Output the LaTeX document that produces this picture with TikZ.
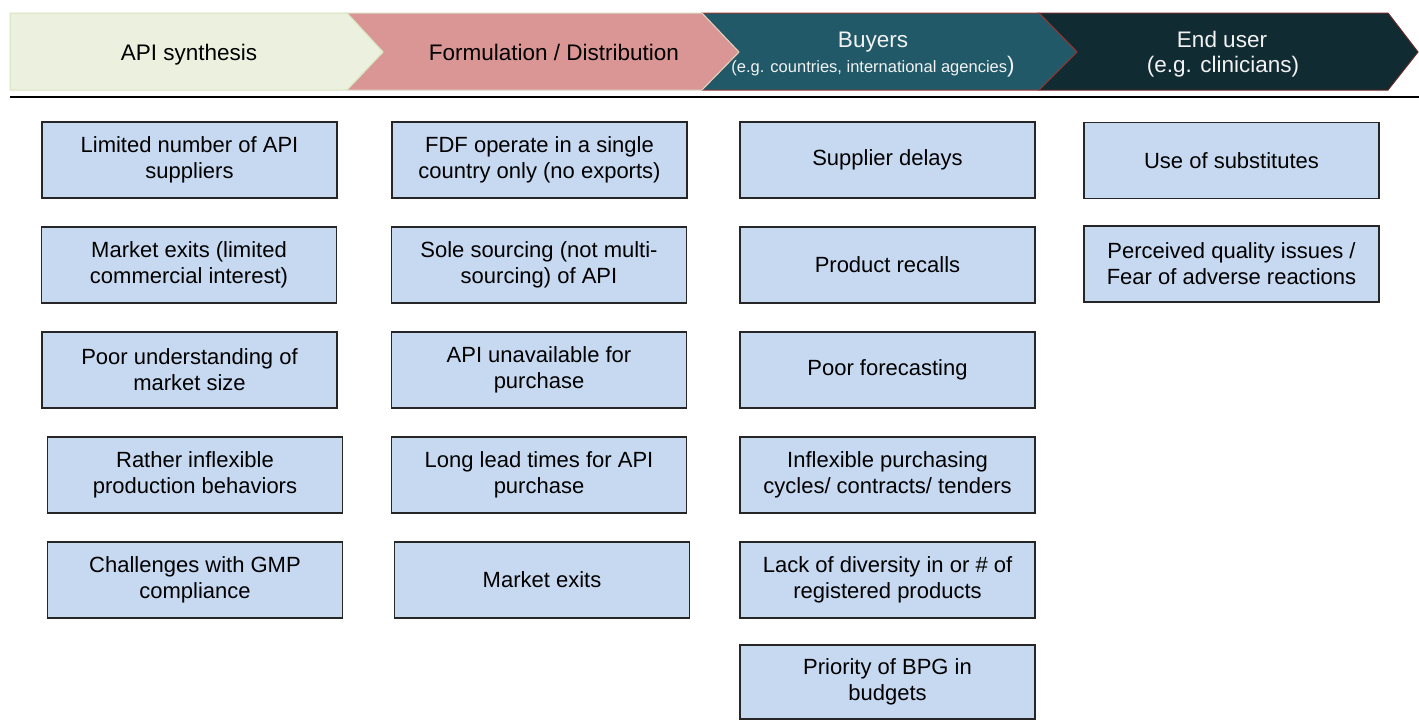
\documentclass[tikz,border=0pt]{standalone}
\usepackage{fontspec}
\setmainfont{Liberation Sans}
\definecolor{hgreen}{HTML}{EBF1DE}
\definecolor{hgreenline}{HTML}{D7E4BD}
\definecolor{hpink}{HTML}{D99694}
\definecolor{hbeige}{HTML}{DDD9C3}
\definecolor{hteal}{HTML}{215968}
\definecolor{hdark}{HTML}{112B33}
\definecolor{hred}{HTML}{953735}
\definecolor{boxblue}{HTML}{C6D9F1}
\begin{document}
\begin{tikzpicture}[x=1pt,y=-1pt,
  issue/.style={draw=black!85, line width=1.1pt, fill=boxblue, minimum width=295pt,
    minimum height=76pt, inner sep=0pt, align=center,
    font=\fontsize{22}{26}\selectfont},
  headtext/.style={align=center, inner sep=0pt, anchor=base, font=\fontsize{22.5}{25}\selectfont},
  seg/.style={line width=1pt, line join=miter}]
\useasboundingbox (0,0) rectangle (1419,721);
% header chevrons
\draw[seg, fill=hdark, draw=hred!70!black] (1039,13) -- (1388,13) -- (1418,52) -- (1388,90) -- (1039,90) -- (1077,52) -- cycle;
\draw[seg, fill=hteal, draw=hred] (702,13) -- (1039,13) -- (1077,52) -- (1039,90) -- (702,90) -- (739,52) -- cycle;
\draw[seg, fill=hpink, draw=hbeige] (347,13) -- (702,13) -- (739,52) -- (702,90) -- (347,90) -- (383,52) -- cycle;
\draw[seg, fill=hgreen, draw=hgreenline] (10,13) -- (347,13) -- (383,52) -- (347,90) -- (10,90) -- cycle;
\draw[line width=2.6pt] (10,97) -- (1419,97);
% header texts
\node[headtext] (h1) at (189,60) {API synthesis};
\node[headtext] (h2) at (554,60) {Formulation / Distribution};
\node[headtext, text=white!95!black] (h3) at (873,47) {Buyers};
\node[inner sep=0pt, text=white!95!black, anchor=base] (h3b) at (873,72)
  {{\fontsize{16.5}{20}\selectfont (e.g. countries, international agencies}{\fontsize{22.5}{25}\selectfont )}};
\node[headtext, text=white!95!black] (h4) at (1222,47) {End user};
\node[headtext, text=white!95!black] (h4b) at (1223,72) {(e.g. clinicians)};
% column 1
\node[issue] (a1) at (189.5,160) {Limited number of API\\suppliers};
\node[issue] (a2) at (189,265) {Market exits (limited\\commercial interest)};
\node[issue] (a3) at (189.5,370) {Poor understanding of\\market size};
\node[issue] (a4) at (195,475) {Rather inflexible\\production behaviors};
\node[issue] (a5) at (195,580) {Challenges with GMP\\compliance};
% column 2
\node[issue] (b1) at (539.5,160) {FDF operate in a single\\country only (no exports)};
\node[issue] (b2) at (539,265) {Sole sourcing (not multi-\\sourcing) of API};
\node[issue] (b3) at (539,370) {API unavailable for\\purchase};
\node[issue] (b4) at (539,475) {Long lead times for API\\purchase};
\node[issue] (b5) at (542,580) {Market exits};
% column 3
\node[issue] (c1) at (887.5,160) {Supplier delays};
\node[issue] (c2) at (887.5,265) {Product recalls};
\node[issue] (c3) at (887.5,370) {Poor forecasting};
\node[issue] (c4) at (887.5,475) {Inflexible purchasing\\cycles/ contracts/ tenders};
\node[issue] (c5) at (887.5,580) {Lack of diversity in or \# of\\registered products};
\node[issue, minimum height=74pt] (c6) at (887.5,682) {Priority of BPG in\\budgets};
% column 4
\node[issue] (d1) at (1231.5,160.5) {Use of substitutes};
\node[issue] (d2) at (1231.5,264) {Perceived quality issues /\\Fear of adverse reactions};
\end{tikzpicture}
\end{document}
